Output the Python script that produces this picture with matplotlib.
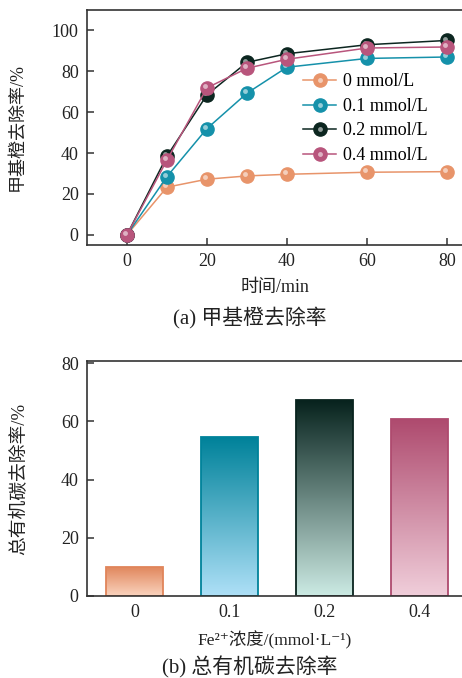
import numpy as np
import matplotlib
matplotlib.use("Agg")
import matplotlib.pyplot as plt
from matplotlib.colors import to_rgb
from matplotlib.transforms import offset_copy
from matplotlib.legend_handler import HandlerTuple

plt.rcParams['font.family'] = ['Liberation Serif', 'Noto Sans CJK SC', 'DejaVu Sans']
plt.rcParams['axes.unicode_minus'] = False

# (a) methyl orange removal
time_min = [0, 10, 20, 30, 40, 60, 80]
series_labels = ["0 mmol/L", "0.1 mmol/L", "0.2 mmol/L", "0.4 mmol/L"]
removal = [
    [0, 23.3, 27.2, 28.8, 29.6, 30.6, 30.9],
    [0, 28.5, 52.0, 69.3, 82.0, 86.3, 87.0],
    [0, 38.5, 68.5, 84.4, 88.6, 93.0, 95.1],
    [0, 36.6, 71.9, 81.5, 85.9, 91.4, 91.9],
]
line_colors = ["#E8946A", "#1591AA", "#0C2620", "#B8557C"]

# (b) TOC removal
fe_conc = ["0", "0.1", "0.2", "0.4"]
toc_removal = [10.0, 54.6, 67.3, 61.0]
bar_top = ["#E0855A", "#00829A", "#08231E", "#AE4A6E"]
bar_bottom = ["#FAD3BE", "#AEE0F7", "#CBEAE3", "#F0CEDA"]

fig = plt.figure(figsize=(4.62, 6.78), dpi=100)
spine_c = "#333333"
txt_c = "#222222"

def style(ax):
    for s in ["left", "bottom", "top"]:
        ax.spines[s].set_color(spine_c)
        ax.spines[s].set_linewidth(1.2)
    ax.spines["right"].set_visible(False)
    ax.tick_params(direction="in", length=5, width=1.1, colors=spine_c,
                   labelsize=13, labelcolor=txt_c, pad=6)

ax1 = fig.add_axes([87/462, 1-245/678, 400/462, 235/678])
handles = []
for vals, lab, c in zip(removal, series_labels, line_colors):
    ln, = ax1.plot(time_min, vals, color=c, lw=1.1, marker="o", ms=9.5,
                   mfc=c, mec=c, label=lab)
    hl_tr = offset_copy(ax1.transData, fig=fig, x=-1.3, y=1.3, units="points")
    ax1.plot(time_min, vals, ls="none", marker="o", ms=3.5,
             mfc="white", mec="none", alpha=0.55, transform=hl_tr)
    hl2, = ax1.plot([], [], ls="none", marker="o", ms=3.5, mfc="white",
                    mec="none", alpha=0.55)
    handles.append((ln, hl2))
ax1.legend(handles, series_labels, handler_map={tuple: HandlerTuple(ndivide=1)},
           loc="upper left", bbox_to_anchor=(0.50, 0.80), frameon=False,
           fontsize=13, handlelength=1.8, handletextpad=0.4, labelspacing=0.42)
ax1.set_xlim(-10, 90)
ax1.set_ylim(-5, 110)
ax1.set_xticks([0, 20, 40, 60, 80])
ax1.set_yticks([0, 20, 40, 60, 80, 100])
style(ax1)
ax1.set_ylabel("甲基橙去除率/%", fontsize=13, color=txt_c)
ax1.yaxis.set_label_coords((26-87)/400, 0.5)
ax1.set_xlabel("时间/min", fontsize=13, color=txt_c)
ax1.xaxis.set_label_coords((275-87)/400, -(279-245)/235)
fig.text(250/462, 1-317/678, "(a) 甲基橙去除率", ha="center", va="center",
         fontsize=15, color=txt_c)

ax2 = fig.add_axes([87/462, 1-596/678, 380/462, 235/678])
xpos = np.arange(len(fe_conc))
bars = ax2.bar(xpos, toc_removal, width=0.6, color="none")
for b, ct, cb in zip(bars, bar_top, bar_bottom):
    t = np.linspace(0, 1, 128)[:, None]
    grad = (1 - t) * np.array(to_rgb(cb)) + t * np.array(to_rgb(ct))
    img = ax2.imshow(grad[:, None, :].repeat(2, axis=1), origin="lower",
                     extent=[b.get_x(), b.get_x() + b.get_width(), 0, b.get_height()],
                     aspect="auto", interpolation="bilinear", zorder=1)
    img.set_clip_path(b)
    b.set_edgecolor(ct)
    b.set_linewidth(1.3)
    b.set_zorder(2)
ax2.set_xlim(-0.5, 3.5)
ax2.set_ylim(0, 80.8)
ax2.set_xticks(xpos)
ax2.set_xticklabels(fe_conc)
ax2.set_yticks([0, 20, 40, 60, 80])
style(ax2)
ax2.tick_params(axis="x", length=0)
ax2.set_ylabel("总有机碳去除率/%", fontsize=13.5, color=txt_c)
ax2.yaxis.set_label_coords((28-87)/380, 0.5)
ax2.set_xlabel("Fe²⁺浓度/(mmol·L⁻¹)", fontsize=12.5, color=txt_c)
ax2.xaxis.set_label_coords((275-87)/380, -(631-596)/235)
fig.text(250/462, 1-667/678, "(b) 总有机碳去除率", ha="center", va="center",
         fontsize=15, color=txt_c)

fig.savefig("out.png", dpi=100)
